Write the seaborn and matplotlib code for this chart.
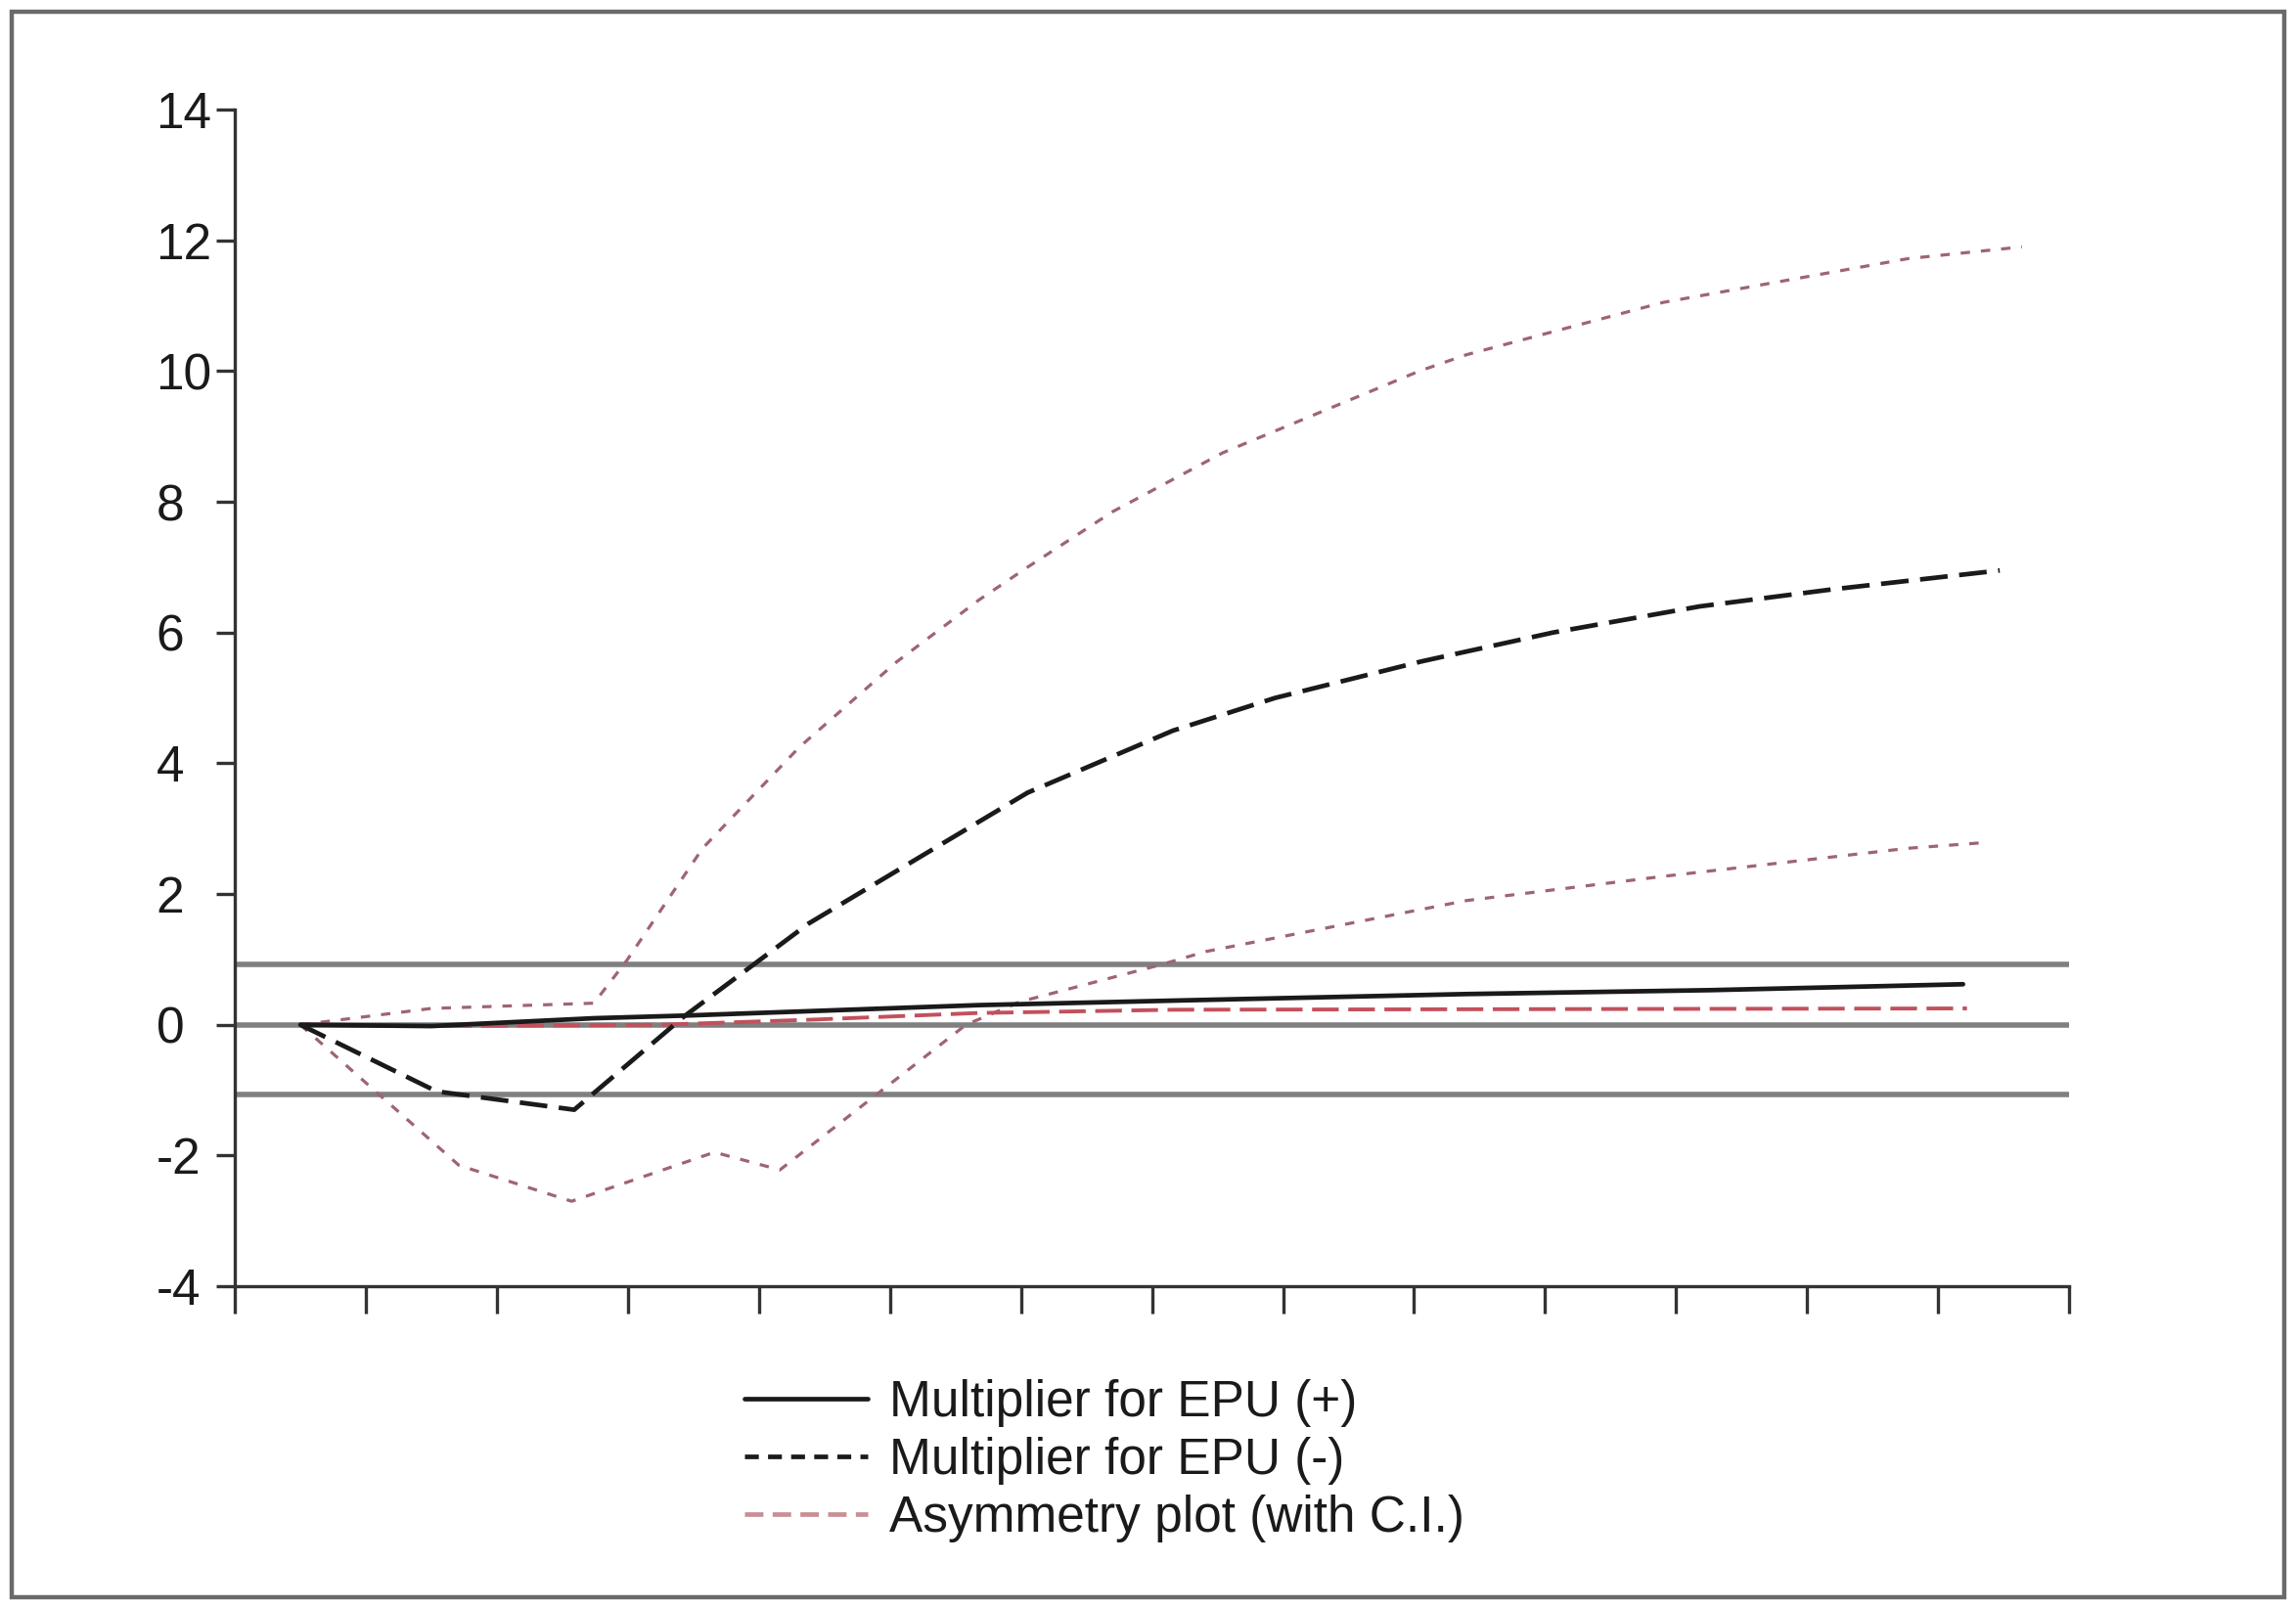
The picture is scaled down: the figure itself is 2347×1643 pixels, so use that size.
import matplotlib
matplotlib.use("Agg")
import matplotlib.pyplot as plt
import seaborn as sns
import pandas as pd
from matplotlib.patches import Rectangle
from matplotlib.lines import Line2D

# Horizons (x) and values, one set per curve
pos_h = [0.50, 1.50, 2.74, 3.43, 5.67, 7.17, 9.40, 11.27, 13.19]
pos_v = [0.00, -0.02, 0.10, 0.14, 0.30, 0.37, 0.47, 0.53, 0.62]

neg_h = [0.50, 1.54, 2.59, 3.43, 4.38, 6.05, 7.16, 7.94, 9.06, 10.06, 11.18, 12.19, 13.47]
neg_v = [0.00, -1.02, -1.30, 0.13, 1.55, 3.55, 4.50, 5.00, 5.56, 6.00, 6.40, 6.66, 6.95]

asym_h = [0.50, 1.57, 3.24, 4.43, 5.67, 7.17, 13.22]
asym_v = [0.00, -0.02, 0.00, 0.08, 0.18, 0.23, 0.25]

upper_h = [0.50, 1.50, 2.74, 2.99, 3.57, 4.31, 5.05, 5.68, 6.05, 6.70, 7.54, 9.04, 9.40, 10.90, 12.77, 13.64]
upper_v = [0.00, 0.25, 0.33, 0.98, 2.70, 4.25, 5.55, 6.50, 7.00, 7.85, 8.75, 10.00, 10.25, 11.05, 11.72, 11.90]

lower_h = [0.50, 1.71, 2.57, 3.66, 4.16, 5.58, 5.99, 7.07, 7.41, 9.40, 10.90, 12.77, 13.31]
lower_v = [0.00, -2.15, -2.70, -1.95, -2.22, 0.00, 0.35, 0.92, 1.12, 1.90, 2.27, 2.70, 2.78]

ref_lines = [0.92, 0.0, -1.06]
y_ticks = [-4, -2, 0, 2, 4, 6, 8, 10, 12, 14]
legend_labels = ["Multiplier for EPU (+)", "Multiplier for EPU (-)", "Asymmetry plot (with C.I.)"]

sns.set_theme(style="ticks")
plt.rcParams["font.family"] = ["Liberation Sans", "DejaVu Sans"]

fig = plt.figure(figsize=(23.47, 16.43), dpi=100)
ax = fig.add_axes([0.1023, 0.1996, 0.7989, 0.7322])

# outer frame around the whole picture
fig.patches.append(Rectangle((0.0051, 0.0061), 0.9898, 0.9866, transform=fig.transFigure,
                             fill=False, edgecolor="#6a6a6a", linewidth=3.2))

for yv in ref_lines:
    ax.axhline(yv, color="#808080", linewidth=4.0, zorder=1)

ci_color = "#9e6570"
red_color = "#c2505c"

sns.lineplot(data=pd.DataFrame({"h": upper_h, "v": upper_v}), x="h", y="v", ax=ax,
             color=ci_color, linewidth=2.3, linestyle=(0, (3, 3.5)), sort=False)
sns.lineplot(data=pd.DataFrame({"h": lower_h, "v": lower_v}), x="h", y="v", ax=ax,
             color=ci_color, linewidth=2.3, linestyle=(0, (3, 3.5)), sort=False)
sns.lineplot(data=pd.DataFrame({"h": asym_h, "v": asym_v}), x="h", y="v", ax=ax,
             color=red_color, linewidth=2.8, linestyle=(0, (7, 2.5)), sort=False)
sns.lineplot(data=pd.DataFrame({"h": pos_h, "v": pos_v}), x="h", y="v", ax=ax,
             color="#1a1a1a", linewidth=3.4, sort=False)
sns.lineplot(data=pd.DataFrame({"h": neg_h, "v": neg_v}), x="h", y="v", ax=ax,
             color="#1a1a1a", linewidth=3.4, linestyle=(0, (6, 2.5)), sort=False)

ax.set_xlim(0, 14)
ax.set_ylim(-4, 14)
ax.set_xticks(range(0, 15))
ax.set_xticklabels([])
ax.set_yticks(y_ticks)
ax.set_yticklabels([str(t) for t in y_ticks])
ax.set_xlabel("")
ax.set_ylabel("")
sns.despine(ax=ax)
for side in ["left", "bottom"]:
    ax.spines[side].set_color("#333333")
    ax.spines[side].set_linewidth(2.4)
ax.tick_params(axis="x", length=20, width=2.4, color="#333333", direction="out")
ax.tick_params(axis="y", length=14, width=2.4, color="#333333", direction="out",
               labelsize=37, labelcolor="#1a1a1a", pad=44)
for lab in ax.get_yticklabels():
    lab.set_horizontalalignment("left")

handles = [
    Line2D([], [], color="#1a1a1a", linewidth=3.4),
    Line2D([], [], color="#1a1a1a", linewidth=3.4, linestyle=(0, (3, 2))),
    Line2D([], [], color="#c88f96", linewidth=3.4, linestyle=(0, (4, 2))),
]
leg = fig.legend(handles, legend_labels, loc="upper left", bbox_to_anchor=(0.3243, 0.142),
                 frameon=False, fontsize=37, handlelength=2.45, handletextpad=0.42,
                 labelspacing=0.2, borderpad=0, borderaxespad=0)
for txt in leg.get_texts():
    txt.set_color("#1a1a1a")

fig.savefig("out.png", dpi=100)
